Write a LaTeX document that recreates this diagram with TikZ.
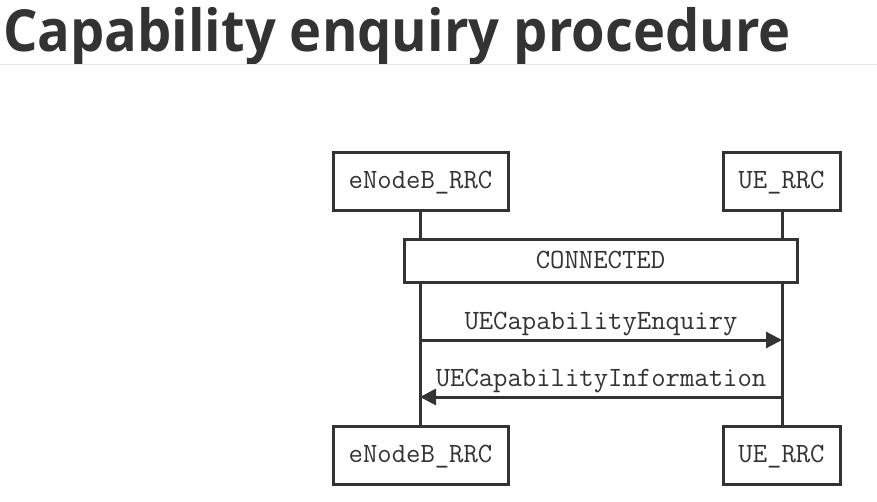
\documentclass[tikz,border=0pt]{standalone}
\usepackage{fontspec}
\setmainfont{Open Sans}
\newfontfamily\titlefont[FakeStretch=0.935]{Open Sans}
\usetikzlibrary{arrows.meta}
\definecolor{ink}{HTML}{333333}
\definecolor{rule}{HTML}{E8E8E8}
\tikzset{
  actor/.style={draw=ink, line width=3pt, fill=white, minimum height=58pt, inner sep=0pt, text height=17pt, text depth=3pt, font=\fontsize{27.9}{30}\ttfamily, text=ink},
  lifeline/.style={draw=ink, line width=3pt},
  msg/.style={draw=ink, line width=3pt, -{Triangle[length=16pt,width=16pt]}},
  msglabel/.style={font=\fontsize{27.9}{30}\ttfamily, text=ink, inner sep=0pt}
}
\begin{document}
\begin{tikzpicture}[x=1pt,y=-1pt]
\useasboundingbox (0,0) rectangle (877,502);
\node[anchor=base west, font=\fontsize{58}{60}\titlefont\bfseries, text=ink, inner sep=0pt] (title) at (3,52) {Capability enquiry procedure};
\coordinate (r1) at (0,64.5);
\coordinate (r2) at (877,64.5);
\draw[rule, line width=1pt] (r1) -- (r2);
% lifelines
\coordinate (la) at (420,211);
\coordinate (lb) at (420,426);
\coordinate (ra) at (782,211);
\coordinate (rb) at (782,426);
\draw[lifeline] (la) -- (lb);
\draw[lifeline] (ra) -- (rb);
% actors
\node[actor, minimum width=175pt] (e1) at (420.5,182) {eNodeB\_RRC};
\node[actor, minimum width=117pt] (u1) at (781.5,182) {UE\_RRC};
\node[actor, minimum width=175pt] (e2) at (420.5,455) {eNodeB\_RRC};
\node[actor, minimum width=117pt] (u2) at (781.5,455) {UE\_RRC};
% state
\node[actor, minimum width=393pt, minimum height=43pt] (conn) at (600.5,261.5) {CONNECTED};
% messages
\coordinate (m1a) at (420,340);
\coordinate (m1b) at (782,340);
\coordinate (m2a) at (782,397);
\coordinate (m2b) at (420,397);
\draw[msg] (m1a) -- (m1b);
\draw[msg] (m2a) -- (m2b);
\node[msglabel, anchor=base] (l1) at (601,329) {UECapabilityEnquiry};
\node[msglabel, anchor=base] (l2) at (601,386) {UECapabilityInformation};
\end{tikzpicture}
\end{document}
